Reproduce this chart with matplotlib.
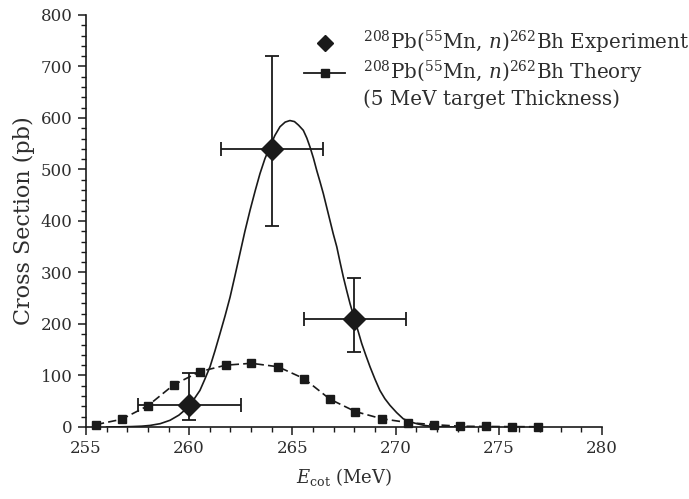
import numpy as np
import matplotlib
matplotlib.use("Agg")
import matplotlib.pyplot as plt
from matplotlib.ticker import MultipleLocator
from matplotlib.lines import Line2D

plt.rcParams['font.family'] = ['DejaVu Serif']
plt.rcParams['mathtext.fontset'] = 'dejavuserif'

# experiment points (E, sigma) with error bars
exp_e = [260.0, 264.0, 268.0]
exp_s = [43, 540, 209]
exp_e_lo = [257.5, 261.55, 265.55]
exp_e_hi = [262.5, 266.5, 270.5]
exp_s_lo = [14, 390, 146]
exp_s_hi = [104, 720, 290]

# theory, 5 MeV target thickness (squares)
thk_e = [255.48, 256.73, 257.99, 259.25, 260.52, 261.77, 263.01, 264.30, 265.56,
         266.82, 268.05, 269.33, 270.62, 271.88, 273.12, 274.38, 275.64, 276.91]
thk_s = [4.6, 15, 41, 82, 107.5, 120, 123.7, 117, 94,
         54, 30, 16, 8.5, 4.5, 1.5, 1.0, 0.7, 0.5]

# theory curve (thin target)
cur_e = [256.0, 256.6, 257.2, 257.7, 258.1, 258.6, 259.07, 259.5, 259.88, 260.2,
         260.52, 260.75, 261.01, 261.25, 261.49, 261.74, 261.98, 262.22, 262.46, 262.7,
         262.95, 263.2, 263.43, 263.67, 263.91, 264.15, 264.40, 264.65, 264.88, 265.1,
         265.3, 265.53, 265.7, 265.85, 266.02, 266.18, 266.34, 266.50, 266.66, 266.82,
         266.98, 267.15, 267.31, 267.47, 267.63, 267.79, 268.03, 268.2, 268.36, 268.56,
         268.76, 269.0, 269.24, 269.48, 269.73, 270.05, 270.37, 270.7, 271.02, 271.4,
         271.83, 272.3, 272.8]
cur_s = [0, 0.3, 0.8, 1.6, 3, 6.5, 13, 23, 36, 52,
         71, 92, 117, 148, 181, 216, 252, 294, 337, 380,
         421, 459, 492, 521, 544, 566, 583, 592, 595, 593,
         586, 576, 561, 544, 522, 498, 476, 453, 427, 401,
         375, 350, 320, 291, 265, 240, 207, 184, 162, 139,
         117, 93, 71, 55, 42, 28, 16, 10, 6.5, 3,
         1, 0.3, 0]

ink = '#1a1a1a'
txt = '#2e2e2e'

fig = plt.figure(figsize=(6.89, 4.99), dpi=100)
ax = fig.add_axes([0.1248, 0.1443, 0.8737 - 0.1248, 0.97 - 0.1443])

ax.plot(cur_e, cur_s, color=ink, lw=1.2, zorder=2, solid_joinstyle='round')
ax.plot(thk_e, thk_s, color=ink, lw=1.2, ls=(0, (5, 2.5)), marker='s', ms=5.5,
        zorder=3, clip_on=False)

exp_e = np.array(exp_e)
exp_s = np.array(exp_s)
xerr = [exp_e - np.array(exp_e_lo), np.array(exp_e_hi) - exp_e]
yerr = [exp_s - np.array(exp_s_lo), np.array(exp_s_hi) - exp_s]
ax.errorbar(exp_e, exp_s, xerr=xerr, yerr=yerr, fmt='D', ms=11, color=ink,
            ecolor=ink, elinewidth=1.3, capsize=5, capthick=1.3, zorder=4)

ax.set_xlim(255, 280)
ax.set_ylim(0, 800)
ax.xaxis.set_major_locator(MultipleLocator(5))
ax.xaxis.set_minor_locator(MultipleLocator(1))
ax.yaxis.set_major_locator(MultipleLocator(100))
ax.yaxis.set_minor_locator(MultipleLocator(20))
ax.tick_params(which='major', length=6, width=1.1, colors=ink, labelcolor=txt,
               labelsize=12, direction='out')
ax.tick_params(which='minor', length=3.5, width=1.0, colors=ink, direction='out')
for s in ['top', 'right']:
    ax.spines[s].set_visible(False)
for s in ['left', 'bottom']:
    ax.spines[s].set_linewidth(1.2)
    ax.spines[s].set_color(ink)

ax.set_ylabel('Cross Section (pb)', fontsize=16, color=txt, labelpad=4)
ax.set_xlabel(r'$E_{\mathrm{cot}}$ (MeV)', fontsize=13, color=txt, labelpad=6)

h_exp = Line2D([], [], ls='none', marker='D', ms=8, color=ink)
h_thy = Line2D([], [], ls='-', lw=1.3, marker='s', ms=5.5, color=ink)
h_blank = Line2D([], [], ls='none')
ax.legend([h_exp, h_thy, h_blank],
          [r'$^{208}$Pb($^{55}$Mn, $n$)$^{262}$Bh Experiment',
           r'$^{208}$Pb($^{55}$Mn, $n$)$^{262}$Bh Theory',
           '(5 MeV target Thickness)'],
          loc='upper left', bbox_to_anchor=(0.395, 1.0), frameon=False,
          fontsize=14.3, labelcolor=txt, handlelength=2.1, handletextpad=0.9,
          labelspacing=0.15, borderaxespad=0.3)

fig.savefig('out.png', dpi=100)
